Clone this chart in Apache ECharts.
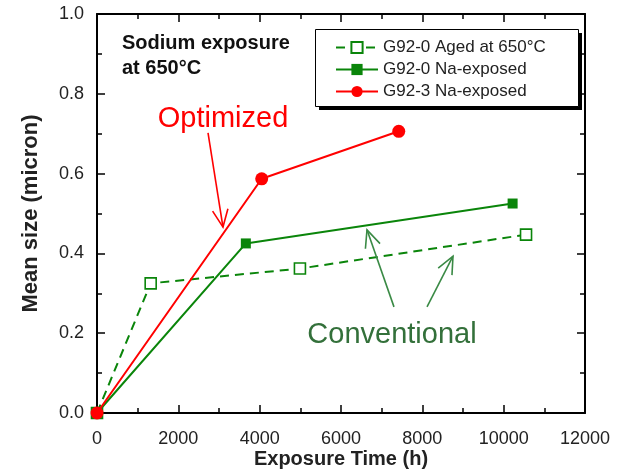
<!DOCTYPE html>
<html>
<head>
<meta charset="utf-8">
<script src="https://cdn.jsdelivr.net/npm/echarts@6/dist/echarts.min.js"></script>
<style>
  html, body { margin: 0; padding: 0; background: #fff; }
  #chart { width: 625px; height: 469px; }
</style>
</head>
<body>
<div id="chart"></div>
<script>
// Mean precipitate size vs. sodium exposure time at 650 °C
const agedTime   = [0, 1320, 4990, 10550];
const agedSize   = [0, 0.325, 0.362, 0.447];
const naTime     = [0, 3660, 10220];
const naSize     = [0, 0.425, 0.525];
const optTime    = [0, 4050, 7420];
const optSize    = [0, 0.587, 0.706];

const seriesNames = ['G92-0 Aged at 650\u00B0C', 'G92-0 Na-exposed', 'G92-3 Na-exposed'];
const xTicks = { min: 0, max: 12000, interval: 2000 };
const yTicks = { min: 0, max: 1.0, interval: 0.2 };

// Callout arrows in data units: [fromX, fromY, toX, toY]
const optArrow  = [2730, 0.702, 3098, 0.466];
const convArrows = [
  [7303, 0.266, 6639, 0.459],
  [8115, 0.266, 8754, 0.393]
];
const optLabelAt  = [3098, 0.737];
const convLabelAt = [7254, 0.195];

const RED = '#ff0000';
const GREEN = '#0a850a';
const CONV_GREEN = '#33703a';
const FONT = 'Arial, "Liberation Sans", sans-serif';

const zip = (xs, ys) => xs.map((x, i) => [x, ys[i]]);

const chart = echarts.init(document.getElementById('chart'), null, { renderer: 'canvas' });

function axisCommon(showLabel, margin, formatter) {
  return {
    axisLine: { show: true, onZero: false, lineStyle: { color: '#000', width: 2 } },
    axisTick: { show: true, inside: true, length: 8, lineStyle: { color: '#000', width: 1.5 } },
    minorTick: { show: true, splitNumber: 2, length: 5, lineStyle: { color: '#000', width: 1.5 } },
    splitLine: { show: false },
    axisLabel: { show: showLabel, color: '#222', fontSize: 18, fontFamily: FONT, margin: margin,
      formatter: formatter }
  };
}

const option = {
  animation: false,
  backgroundColor: '#fff',
  grid: { left: 97, right: 40, top: 14, bottom: 56, containLabel: false, outerBoundsMode: 'none' },
  xAxis: [
    Object.assign({
      type: 'value', position: 'bottom', min: xTicks.min, max: xTicks.max, interval: xTicks.interval,
      name: 'Exposure Time (h)', nameLocation: 'middle', nameGap: 36, nameMoveOverlap: false,
      nameTextStyle: { fontSize: 20, fontWeight: 'bold', color: '#222', fontFamily: FONT }
    }, axisCommon(true, 17, v => String(v))),
    Object.assign({
      type: 'value', position: 'top', min: xTicks.min, max: xTicks.max, interval: xTicks.interval
    }, axisCommon(false, 8))
  ],
  yAxis: [
    Object.assign({
      type: 'value', position: 'left', min: yTicks.min, max: yTicks.max, interval: yTicks.interval,
      name: 'Mean size (micron)', nameLocation: 'middle', nameGap: 55, nameRotate: 90,
      nameMoveOverlap: false,
      nameTextStyle: { fontSize: 22, fontWeight: 'bold', color: '#222', fontFamily: FONT }
    }, axisCommon(true, 13, v => v.toFixed(1))),
    Object.assign({
      type: 'value', position: 'right', min: yTicks.min, max: yTicks.max, interval: yTicks.interval
    }, axisCommon(false, 8))
  ],
  legend: {
    orient: 'vertical',
    left: 335, top: 39,
    data: seriesNames,
    itemWidth: 42, itemHeight: 14, itemGap: 5,
    padding: 0,
    textStyle: { fontSize: 17, color: '#222', fontFamily: FONT },
    selectedMode: false,
    z: 5
  },
  series: [
    {
      name: seriesNames[0], type: 'line', data: zip(agedTime, agedSize),
      symbol: 'rect', symbolSize: 11, showAllSymbol: true,
      lineStyle: { color: GREEN, width: 2, type: [9, 6] },
      itemStyle: { color: '#fff', borderColor: GREEN, borderWidth: 1.6 },
      z: 3
    },
    {
      name: seriesNames[1], type: 'line', data: zip(naTime, naSize),
      symbol: 'rect', symbolSize: 10,
      lineStyle: { color: GREEN, width: 2 },
      itemStyle: { color: GREEN, borderColor: GREEN, borderWidth: 0 },
      z: 4
    },
    {
      name: seriesNames[2], type: 'line', data: zip(optTime, optSize),
      symbol: 'circle', symbolSize: 13,
      lineStyle: { color: RED, width: 2 },
      itemStyle: { color: RED, borderWidth: 0 },
      z: 5
    }
  ]
};

chart.setOption(option);

// Callout text and arrows, positioned through the grid's coordinate system
function arrowShapes(a, color) {
  const p0 = chart.convertToPixel({ gridIndex: 0 }, [a[0], a[1]]);
  const p1 = chart.convertToPixel({ gridIndex: 0 }, [a[2], a[3]]);
  const ang = Math.atan2(p1[1] - p0[1], p1[0] - p0[0]);
  const headLen = 19, spread = 0.42;
  const h1 = [p1[0] - headLen * Math.cos(ang - spread), p1[1] - headLen * Math.sin(ang - spread)];
  const h2 = [p1[0] - headLen * Math.cos(ang + spread), p1[1] - headLen * Math.sin(ang + spread)];
  const style = { stroke: color, lineWidth: 1.6, fill: null };
  return [
    { type: 'line', shape: { x1: p0[0], y1: p0[1], x2: p1[0], y2: p1[1] }, style: style, z: 10 },
    { type: 'polyline', shape: { points: [h1, p1, h2] }, style: style, z: 10 }
  ];
}

function textAt(d, text, color) {
  const p = chart.convertToPixel({ gridIndex: 0 }, d);
  return {
    type: 'text', x: p[0], y: p[1], z: 10,
    style: { text: text, fill: color, font: '29px ' + FONT, align: 'center', verticalAlign: 'middle' }
  };
}

const graphics = [
  // legend frame with a hard drop shadow
  { type: 'rect', z: 1, shape: { x: 319, y: 33, width: 263, height: 77 }, style: { fill: '#000' } },
  { type: 'rect', z: 2, shape: { x: 315.5, y: 29.5, width: 263, height: 77 },
    style: { fill: '#fff', stroke: '#000', lineWidth: 1 } },
  {
    type: 'text', left: 122, top: 31, z: 10,
    style: {
      text: 'Sodium exposure\nat 650\u00B0C',
      fill: '#111', font: 'bold 20px ' + FONT, lineHeight: 25
    }
  },
  textAt(optLabelAt, 'Optimized', RED),
  textAt(convLabelAt, 'Conventional', CONV_GREEN)
]
  .concat(arrowShapes(optArrow, RED))
  .concat(convArrows.flatMap(a => arrowShapes(a, '#3a8a45')));

chart.setOption({ graphic: graphics });
</script>
</body>
</html>
